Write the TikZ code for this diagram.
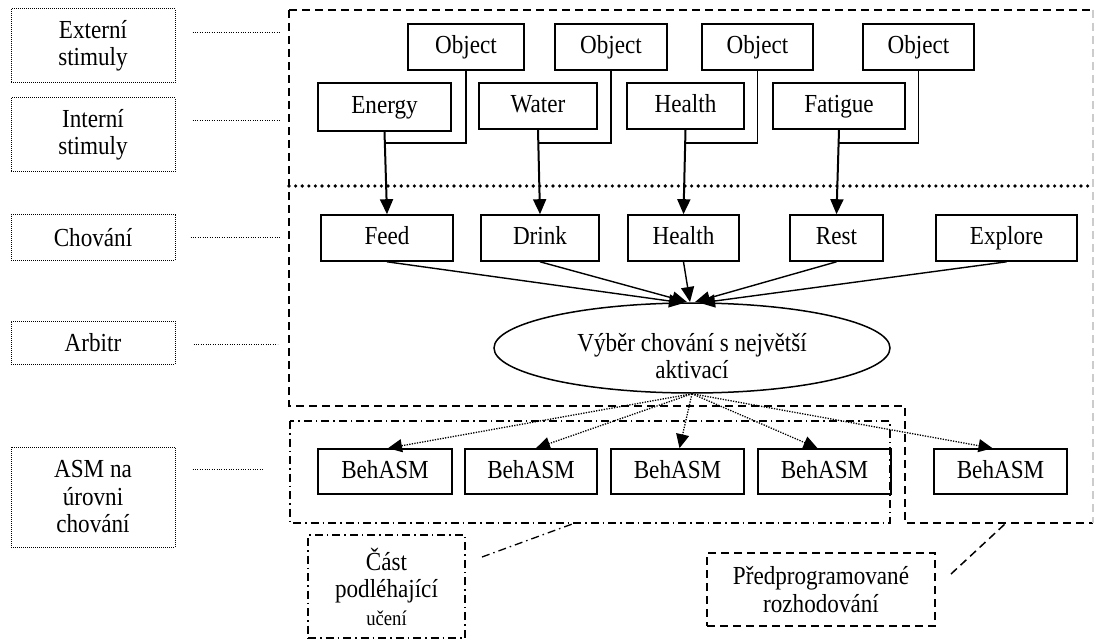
\documentclass[tikz,border=0pt]{standalone}
\usepackage{fontspec}
\setmainfont[FakeStretch=0.89]{Liberation Serif}
\usetikzlibrary{shapes.geometric,arrows.meta}
\begin{document}
\begin{tikzpicture}[x=1pt,y=-1pt,
  txt/.style={font=\fontsize{26}{27.5}\selectfont},
  box/.style={draw,line width=1.6pt,inner sep=0pt,txt,text height=18pt,text depth=5pt},
  lbl/.style={draw,line width=1pt,dash pattern=on 1pt off 1pt,inner sep=0pt,align=center,txt,minimum width=164pt},
  leader/.style={line width=1pt,dash pattern=on 1pt off 1.4pt},
  dashedbox/.style={line width=1.5pt,dash pattern=on 8pt off 5pt},
  dashdot/.style={line width=1.3pt,dash pattern=on 8pt off 4pt on 1.5pt off 4pt},
  thickarr/.style={line width=2pt,-{Triangle[length=15pt,width=13pt]}},
  thinarr/.style={line width=1.4pt,-{Triangle[length=15pt,width=13pt]}},
  dotarr/.style={line width=1.3pt,dash pattern=on 1.3pt off 1.3pt,-{Triangle[length=14pt,width=13pt]}},
  conn/.style={line width=1.4pt}
]
\useasboundingbox (0,0) rectangle (1095,639);

% outlines
\draw[dashedbox] (289,10) -- (1093,10);
\draw[dashedbox] (289,10) -- (289,406) -- (905,406) -- (905,523) -- (1093,523);
\draw[dashedbox,gray!40] (1093,10) -- (1093,523);
\draw[line width=3.6pt,line cap=round,dash pattern=on 0pt off 6.6pt] (289,186) -- (1093,186);
\draw[dashdot] (290,421) rectangle (890,523);

% left labels
\node[lbl,minimum height=74pt] (ext) at (93,46) {Externí\\stimuly};
\node[lbl,minimum height=74pt] (int) at (93,135) {Interní\\stimuly};
\node[lbl,minimum height=45pt] (chov) at (93,237.5) {Chování};
\node[lbl,minimum height=43pt] (arb) at (93,342.5) {Arbitr};
\node[lbl,minimum height=100pt] (asm) at (93,497) {ASM na\\úrovni\\chování};
\draw[leader] ([xshift=17pt,yshift=13pt]ext.east) -- ++(88,0);
\draw[leader] ([xshift=17pt,yshift=14pt]int.east) -- ++(88,0);
\draw[leader] ([xshift=15pt]chov.east) -- ++(90,0);
\draw[leader] ([xshift=18pt,yshift=-1.5pt]arb.east) -- ++(84,0);
\draw[leader] ([xshift=17pt,yshift=28pt]asm.east) -- ++(71,0);

% objects
\node[box,minimum width=116pt,minimum height=46pt] (o1) at (466,47) {Object};
\node[box,minimum width=112pt,minimum height=46pt] (o2) at (611,47) {Object};
\node[box,minimum width=111pt,minimum height=46pt] (o3) at (757.5,47) {Object};
\node[box,minimum width=111pt,minimum height=46pt] (o4) at (918.5,47) {Object};

% internal stimuli
\node[box,minimum width=133pt,minimum height=48pt] (s1) at (384.5,107) {Energy};
\node[box,minimum width=118pt,minimum height=46pt] (s2) at (538,106) {Water};
\node[box,minimum width=117pt,minimum height=46pt] (s3) at (685.5,106) {Health};
\node[box,minimum width=132pt,minimum height=46pt] (s4) at (839,106) {Fatigue};

% behaviours
\node[box,minimum width=132pt,minimum height=46pt] (b1) at (387,238) {Feed};
\node[box,minimum width=118pt,minimum height=46pt] (b2) at (540,238) {Drink};
\node[box,minimum width=111pt,minimum height=46pt] (b3) at (683.5,238) {Health};
\node[box,minimum width=93pt,minimum height=46pt] (b4) at (836.5,238) {Rest};
\node[box,minimum width=141pt,minimum height=46pt] (b5) at (1006.5,238) {Explore};

% arbiter
\node[draw,line width=1.5pt,ellipse,minimum width=396pt,minimum height=90pt] (sel) at (692,348) {};
\node[txt,align=center] (seltext) at (692,356) {Výběr chování s největší\\aktivací};

% BehASM
\node[box,minimum width=134pt,minimum height=45pt] (a1) at (385,471.5) {BehASM};
\node[box,minimum width=132pt,minimum height=45pt] (a2) at (531,471.5) {BehASM};
\node[box,minimum width=133pt,minimum height=45pt] (a3) at (677.5,471.5) {BehASM};
\node[box,minimum width=133pt,minimum height=45pt] (a4) at (824.5,471.5) {BehASM};
\node[box,minimum width=133pt,minimum height=45pt] (a5) at (1000.5,471.5) {BehASM};

% part labels
\node[draw,dashdot,minimum width=157pt,minimum height=103pt,inner sep=0pt,align=center,txt] (learn) at (386.5,586.5) {Část\\podléhající\\{\fontsize{21}{24}\selectfont učení}};
\node[draw,dashedbox,minimum width=228pt,minimum height=73pt,inner sep=0pt,align=center,txt] (pre) at (821,589.5) {Předprogramované\\rozhodování};
\coordinate (learnend) at (482,557);
\coordinate (learntop) at (575,523);
\coordinate (preend) at (951,574);
\coordinate (pretop) at (1006,523);
\draw[dashdot] (learnend) -- (learntop);
\draw[dashedbox] (preend) -- (pretop);

% stimulus connectors
\coordinate (e1) at (s1.south |- 0,143);
\coordinate (e2) at (s2.south |- 0,143);
\coordinate (e3) at (s3.south |- 0,143);
\coordinate (e4) at (s4.south |- 0,143);
\draw[conn] (o1.south) |- (e1);
\draw[conn] (o2.south) |- (e2);
\draw[conn] (o3.south) |- (e3);
\draw[conn] (o4.south) |- (e4);
\draw[thickarr] (s1.south) -- (b1.north);
\draw[thickarr] (s2.south) -- (b2.north);
\draw[thickarr] (s3.south) -- (b3.north);
\draw[thickarr] (s4.south) -- (b4.north);

% behaviours to arbiter
\coordinate (t1) at (684,303);
\coordinate (t2) at (687,302);
\coordinate (t3) at (690,302);
\coordinate (t4) at (695,302);
\coordinate (t5) at (700,303);
\draw[thinarr] (b1.south) -- (t1);
\draw[thinarr] (b2.south) -- (t2);
\draw[thinarr] (b3.south) -- (t3);
\draw[thinarr] (b4.south) -- (t4);
\draw[thinarr] (b5.south) -- (t5);

% arbiter to BehASM
\draw[dotarr] (sel.south) -- ([xshift=3pt]a1.north);
\draw[dotarr] (sel.south) -- ([xshift=5pt]a2.north);
\draw[dotarr] (sel.south) -- ([xshift=2pt]a3.north);
\draw[dotarr] (sel.south) -- ([xshift=-7pt]a4.north);
\draw[dotarr] (sel.south) -- ([xshift=-8pt]a5.north);
\end{tikzpicture}
\end{document}
